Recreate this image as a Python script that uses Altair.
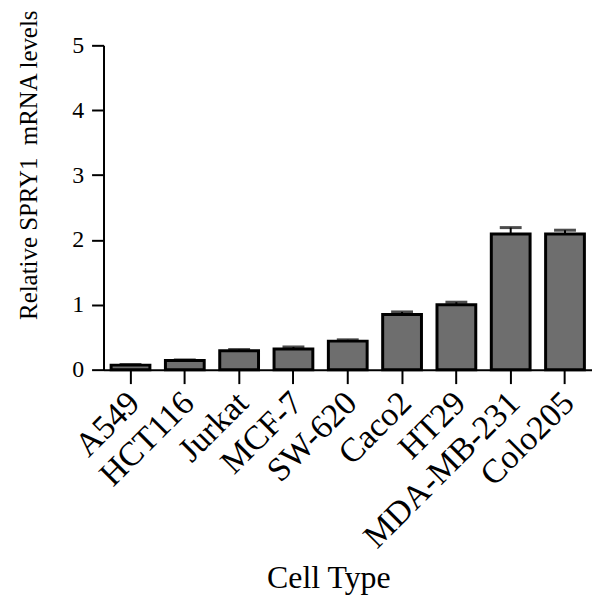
import altair as alt
import pandas as pd

cells = ["A549", "HCT116", "Jurkat", "MCF-7", "SW-620", "Caco2", "HT29", "MDA-MB-231", "Colo205"]
values = [0.07, 0.14, 0.29, 0.32, 0.44, 0.85, 1.00, 2.09, 2.09]
errors = [0.01, 0.01, 0.02, 0.03, 0.02, 0.04, 0.04, 0.10, 0.06]

df = pd.DataFrame({"cell": cells, "value": values, "err": errors})
df["hi"] = df["value"] + df["err"]

FONT = "Liberation Serif"

x = alt.X("cell:N", sort=cells, title="Cell Type",
          scale=alt.Scale(paddingInner=0.286, paddingOuter=0.14),
          axis=alt.Axis(labelAngle=-45, labelFontSize=34, labelFont=FONT, labelColor="black",
                        labelLimit=500, grid=False,
                        titleFontSize=32, titleFont=FONT, titleFontWeight="normal", titleColor="black",
                        titleX=226, titleY=219, titleBaseline="alphabetic", titleAnchor="middle",
                        domainColor="black", domainWidth=2, tickColor="black",
                        tickWidth=2, tickSize=14, labelPadding=2, labelOffset=-8))
y = alt.Y("value:Q", title="Relative SPRY1\u00a0 mRNA levels",
          scale=alt.Scale(domain=[0, 5], nice=False),
          axis=alt.Axis(values=[0, 1, 2, 3, 4, 5], format="d", grid=False, labelFontSize=24, labelFont=FONT,
                        labelColor="black", titleFontSize=25, titleFont=FONT, titleFontWeight="normal",
                        titleColor="black", titlePadding=30, titleY=120,
                        domainColor="black", domainWidth=2,
                        tickColor="black", tickWidth=2, tickSize=12, labelPadding=8))

bars = alt.Chart(df).mark_bar(fill="#6e6e6e", stroke="black", strokeWidth=3).encode(x=x, y=y)
rules = alt.Chart(df).mark_rule(color="black", strokeWidth=2).encode(
    x=alt.X("cell:N", sort=cells), y="value:Q", y2="hi:Q")
caps = alt.Chart(df).mark_tick(color="black", thickness=3, size=22).encode(
    x=alt.X("cell:N", sort=cells), y="hi:Q")

chart = (
    alt.layer(bars, rules, caps)
    .properties(
        width=491, height=326,
        autosize=alt.AutoSizeParams(type="none"),
        padding={"left": 96, "top": 36, "right": 0, "bottom": 230},
    )
    .configure(background="white")
    .configure_view(strokeWidth=0)
    .configure_axis(grid=False)
)

chart.save("out.html", embed_options={"renderer": "svg", "actions": False})
